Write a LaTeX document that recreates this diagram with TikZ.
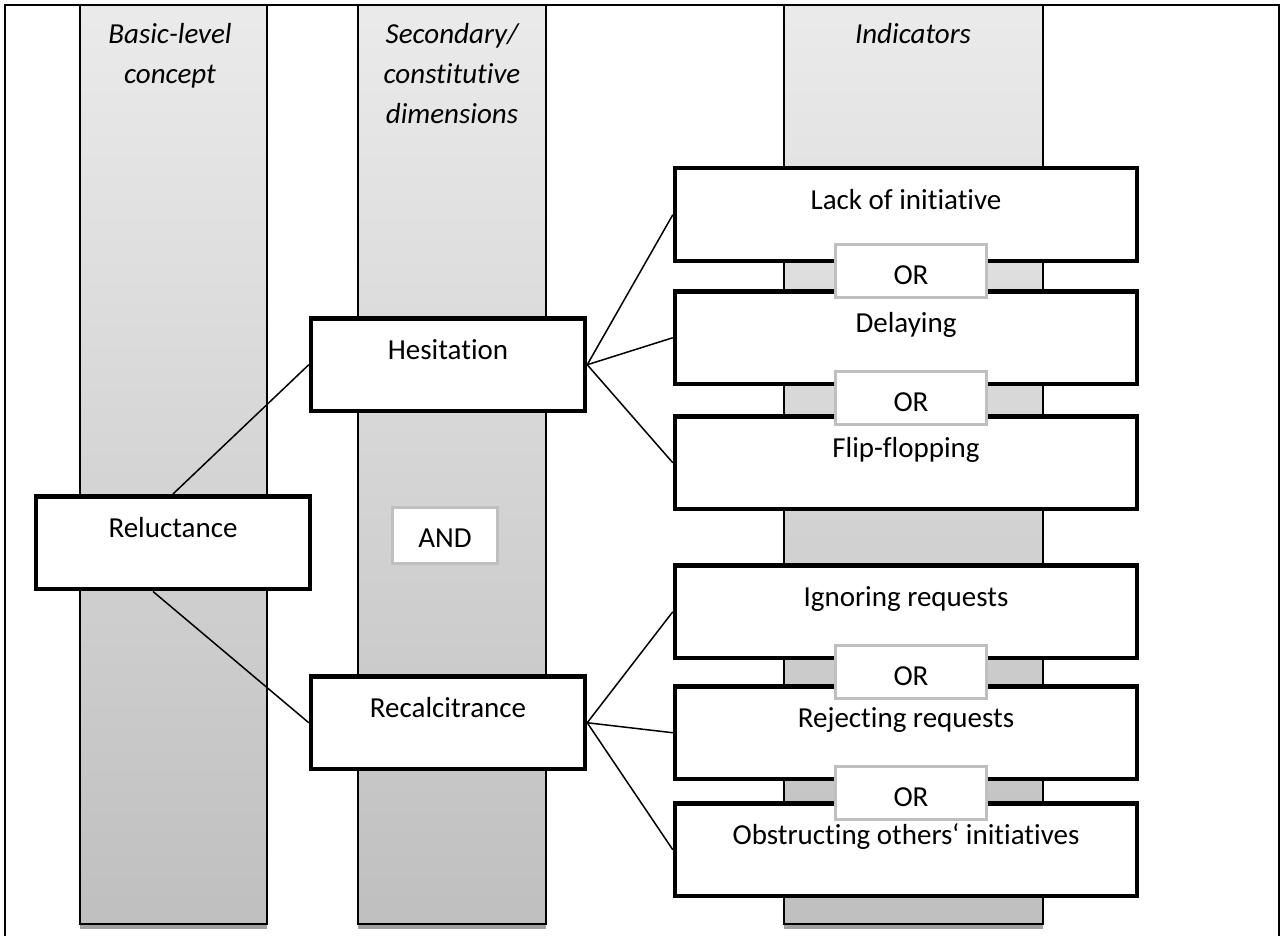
\documentclass[tikz,border=0pt]{standalone}
\usepackage{fontspec}
\setmainfont{Carlito}[Ligatures=NoCommon]
\usepackage{tikz}

\begin{document}
\begin{tikzpicture}[x=0.02cm,y=-0.02cm,
  every node/.append style={font=\fontsize{16.5}{22.8}\selectfont},
  box/.style={draw,line width=0.09cm,fill=white,inner sep=0pt,text height=0.82cm,text depth=1.04cm,minimum width=5.48cm,anchor=north},
  ind/.style={box,minimum width=9.24cm},
  gate/.style={draw=black!25,line width=0.06cm,fill=white,inner sep=0pt,text height=0.8cm,text depth=0.26cm,minimum width=3.02cm,anchor=north},
  head/.style={align=center,font=\fontsize{16.5}{22.8}\selectfont\itshape,inner sep=0pt,anchor=north},
  link/.style={line width=0.03cm}]
\useasboundingbox (0,0) rectangle (1285,936);
% columns
\foreach \l/\r in {80/267,358/546,784/1043} {
\fill[black!37] (\l,10) rectangle (\r,929);
\shade[top color=black!8,bottom color=black!25,draw=black,line width=0.03cm] (\l,5) rectangle (\r,924);
}
\draw[line width=0.04cm] (5,936) -- (5,5) -- (1279,5) -- (1279,936);
\node[head] (hbasic) at (170,23) {Basic-level\\concept};
\node[head] (hsec) at (452,23) {Secondary/\\constitutive\\dimensions};
\node[head] (hind) at (913,23) {Indicators};

\node[box] (rel) at (173,494) {Reluctance};
\node[box] (hes) at (448,316) {Hesitation};
\node[box] (rec) at (448,674) {Recalcitrance};
\node[gate,minimum width=2.1cm,text depth=0.32cm] (and) at (445,506) {AND};

\node[ind] (lack) at (906,166) {Lack of initiative};
\node[ind] (delay) at (906,289) {Delaying};
\node[ind] (flip) at (906,414) {Flip-flopping};
\node[ind] (ign) at (906,563) {Ignoring requests};
\node[ind] (rej) at (906,684) {Rejecting requests};
\node[ind] (obs) at (906,801) {Obstructing others‘ initiatives};
\foreach \y [count=\i] in {243,370,644,765}
\node[gate] (or\i) at (911,\y) {OR};

\draw[link] (rel.north) -- (hes.west);
\draw[link] ([xshift=-0.4cm]rel.south) -- (rec.west);
\foreach \t in {lack,delay,flip}
\draw[link] (hes.east) -- (\t.west);
\foreach \t in {ign,rej,obs}
\draw[link] (rec.east) -- (\t.west);
\end{tikzpicture}
\end{document}
